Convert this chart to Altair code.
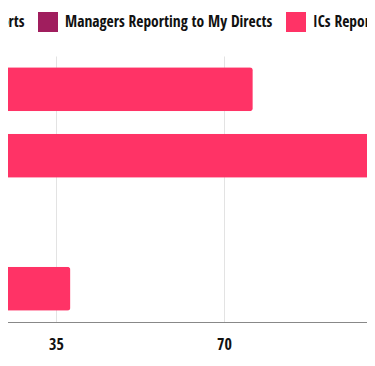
import altair as alt
import pandas as pd

categories = ["Engineering", "Product", "Design", "Sales"]
series = ["Direct Reports", "Managers Reporting to My Directs", "ICs Reporting to My Directs"]
direct_reports = [6, 8, 5, 5]
managers_reporting = [8, 12, 6, 7]
ics_reporting = [62, 98, 8, 26]
colors = ["#5B1647", "#A01E5E", "#FF3366"]
tick_values = [35, 70]

rows = []
for i, c in enumerate(categories):
    for j, (s, vals) in enumerate(zip(series, [direct_reports, managers_reporting, ics_reporting])):
        rows.append({"category": c, "series": s, "value": vals[i], "order": j})
df = pd.DataFrame(rows)

FONT = "'Open Sans Condensed', 'DejaVu Sans Condensed', sans-serif"

chart = alt.Chart(df).mark_bar(cornerRadiusEnd=3).encode(
    x=alt.X("value:Q", stack="zero",
            scale=alt.Scale(domain=[0, 140], nice=False),
            axis=alt.Axis(values=tick_values, grid=True, gridColor="#e3e3e3", gridWidth=1,
                          domainColor="#888888", domainWidth=1, ticks=False,
                          labelFont=FONT, labelFontSize=16, labelColor="#111111",
                          labelFontWeight="normal", labelPadding=14, title=None)),
    y=alt.Y("category:N", sort=categories, axis=None,
            scale=alt.Scale(paddingInner=0.34, paddingOuter=0.17)),
    color=alt.Color("series:N", scale=alt.Scale(domain=series, range=colors),
                    legend=alt.Legend(orient="none", legendX=24, legendY=-44,
                                      direction="horizontal", title=None,
                                      symbolType="square", symbolSize=400,
                                      symbolStrokeWidth=0, labelFontSize=15.5,
                                      labelFont=FONT, labelColor="#111111",
                                      labelOffset=7, columnPadding=13, padding=0,
                                      labelLimit=400)),
    order=alt.Order("order:Q"),
).properties(
    width=672, height=266,
    autosize=alt.AutoSizeParams(type="none"),
    padding={"left": -120, "top": 48, "right": -193, "bottom": 36},
).configure_view(stroke=None)

chart.save("out.html", embed_options={"renderer": "svg", "actions": False})
